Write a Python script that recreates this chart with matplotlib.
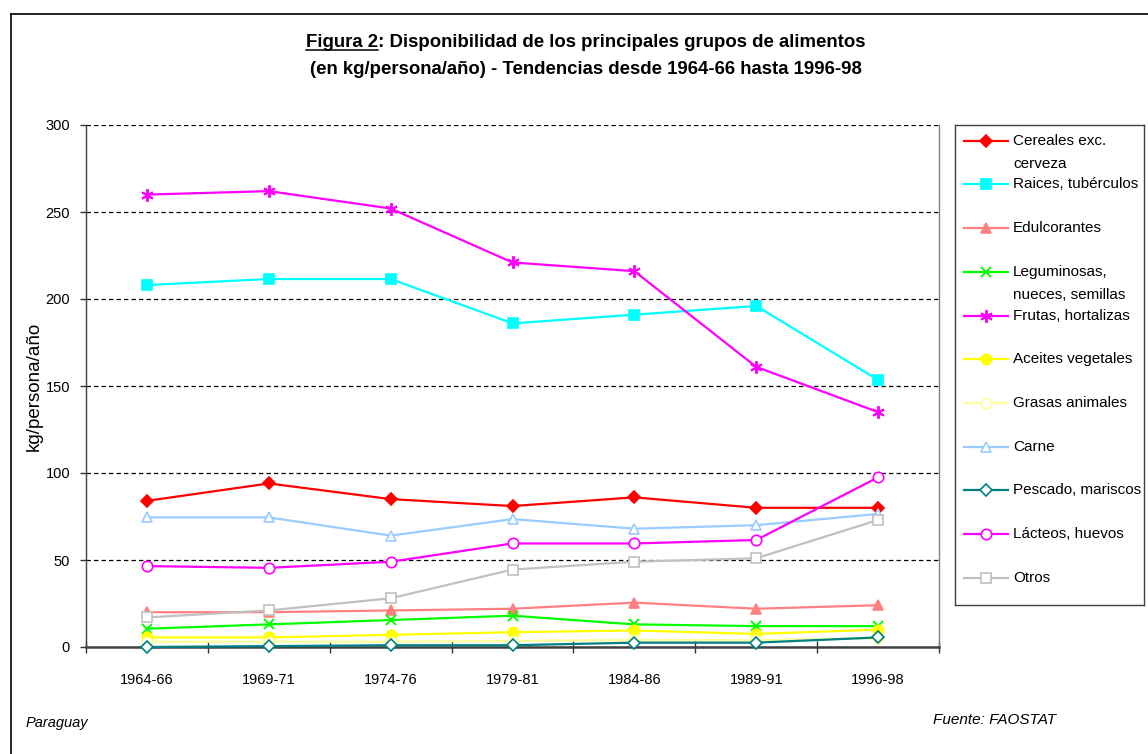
import matplotlib
matplotlib.use("Agg")
import matplotlib.pyplot as plt
from matplotlib.lines import Line2D
import numpy as np

plt.rcParams['font.family'] = ['Liberation Sans', 'DejaVu Sans']

periods = ["1964-66", "1969-71", "1974-76", "1979-81", "1984-86", "1989-91", "1996-98"]

cereales = [84, 94, 85, 81, 86, 80, 80]
raices = [208, 211.5, 211.5, 186, 191, 196, 153.5]
edulcorantes = [20, 20, 21, 22, 25.5, 22, 24]
leguminosas = [10.5, 13, 15.5, 18, 13, 12, 12]
frutas = [260, 262, 252, 221, 216, 161, 135]
aceites = [5.5, 5.5, 7, 8.5, 9.5, 7.5, 10]
grasas = [3, 3, 3, 3.5, 4, 4, 5]
carne = [74.5, 74.5, 64, 73.5, 68, 70, 76.5]
pescado = [0, 0.5, 1, 1, 2.5, 2.5, 5.5]
lacteos = [46.5, 45.5, 49, 59.5, 59.5, 61.5, 97.5]
otros = [17, 21, 28, 44.5, 49, 51, 73]

labels = ["Cereales exc.\ncerveza", "Raices, tubérculos", "Edulcorantes",
          "Leguminosas,\nnueces, semillas", "Frutas, hortalizas", "Aceites vegetales",
          "Grasas animales", "Carne", "Pescado, mariscos", "Lácteos, huevos", "Otros"]
series = [cereales, raices, edulcorantes, leguminosas, frutas, aceites,
          grasas, carne, pescado, lacteos, otros]

# (color, marker, size, filled)
styles = [
    ("#FF0000", "D", 6.5, True),
    ("#00FFFF", "s", 7, True),
    ("#FF8080", "^", 7.5, True),
    ("#00FF00", "x", 7, True),
    ("#FF00FF", (6, 2, 0), 9, True),
    ("#FFFF00", "o", 7.5, True),
    ("#FFFF99", "o", 7.5, False),
    ("#99CCFF", "^", 7.5, False),
    ("#008080", "D", 6, False),
    ("#FF00FF", "o", 7.5, False),
    ("#C0C0C0", "s", 7, False),
]

W, H = 1148, 754
fig = plt.figure(figsize=(W / 100, H / 100), dpi=100)
ax = fig.add_axes([86 / W, 1 - 647 / H, (939 - 86) / W, 522 / H])

x = np.arange(len(periods))


def marker_kw(color, marker, size, filled):
    kw = dict(marker=marker, markersize=size, markeredgecolor=color)
    if filled:
        kw["markerfacecolor"] = color
    else:
        kw["markerfacecolor"] = "white"
    if marker in ("x",) or isinstance(marker, tuple):
        kw["markeredgewidth"] = 1.4
    else:
        kw["markeredgewidth"] = 1.2
    return kw


for i, (vals, st) in enumerate(zip(series, styles)):
    color, marker, size, filled = st
    ax.plot(x, vals, color=color, lw=1.6, zorder=3 + i, clip_on=False,
            **marker_kw(color, marker, size, filled))

ax.set_xlim(-0.5, len(periods) - 0.5)
ax.set_ylim(0, 300)
ax.set_yticks(np.arange(0, 301, 50))
ax.set_xticks(x)
ax.set_xticklabels(periods)
ax.set_xticks(np.arange(-0.5, len(periods), 1), minor=True)
ax.tick_params(axis='x', which='major', length=0, pad=19, labelsize=10.5)
ax.tick_params(axis='x', which='minor', direction='inout', length=8, width=1, color='#333333')
ax.tick_params(axis='y', direction='out', length=4.5, width=1, pad=7, labelsize=10.5, color='#333333')
ax.yaxis.grid(True, color='black', lw=0.9, linestyle=(0, (3.5, 2.5)))
ax.set_axisbelow(True)
ax.spines['top'].set_visible(False)
ax.spines['left'].set_color('#404040')
ax.spines['left'].set_linewidth(1)
ax.spines['bottom'].set_color('#404040')
ax.spines['bottom'].set_linewidth(1.8)
ax.spines['right'].set_color('#808080')
ax.spines['right'].set_linewidth(1)
ax.set_ylabel("kg/persona/año", fontsize=13.5, labelpad=2)

# legend box
lax = fig.add_axes([955 / W, 1 - 605 / H, 189 / W, 480 / H])
lax.set_xlim(0, 189)
lax.set_ylim(480, 0)
lax.set_xticks([])
lax.set_yticks([])
for s in lax.spines.values():
    s.set_color('#404040')
    s.set_linewidth(1)
for i, (lab, st) in enumerate(zip(labels, styles)):
    color, marker, size, filled = st
    yy = 15.7 + 43.7 * i
    lax.plot([9, 53], [yy, yy], color=color, lw=1.6)
    lax.plot([31], [yy], color=color, lw=0, **marker_kw(color, marker, size, filled))
    for j, part in enumerate(lab.split("\n")):
        lax.text(58, yy + 23 * j, part, fontsize=11, va='center', ha='left')

# outer frame
fig.add_artist(Line2D([11 / W, 11 / W], [1 - 14 / H, 0], color='black', lw=1.2))
fig.add_artist(Line2D([11 / W, 1], [1 - 14 / H, 1 - 14 / H], color='black', lw=1.2))

# title
tsize = 13.4
title_kw = dict(ha='center', va='baseline', fontsize=tsize, fontweight='bold')
t1 = fig.text(586 / W, 1 - 47 / H,
              "Figura 2: Disponibilidad de los principales grupos de alimentos", **title_kw)
fig.text(586 / W, 1 - 74 / H,
         "(en kg/persona/año) - Tendencias desde 1964-66 hasta 1996-98", **title_kw)

fig.canvas.draw()
r = fig.canvas.get_renderer()
bb = t1.get_window_extent(r)
tmp = fig.text(0, 0, "Figura 2", fontsize=tsize, fontweight='bold')
wpart = tmp.get_window_extent(r).width
tmp.remove()
uy = 1 - 49.5 / H
fig.add_artist(Line2D([bb.x0 / W, (bb.x0 + wpart) / W], [uy, uy], color='black', lw=1.1))

fig.text(26 / W, 1 - 723 / H, "Paraguay", fontsize=10.5, style='italic', va='center')
fig.text(933 / W, 1 - 720 / H, "Fuente: FAOSTAT", fontsize=11, style='italic', va='center')

fig.savefig("out.png", dpi=100)
